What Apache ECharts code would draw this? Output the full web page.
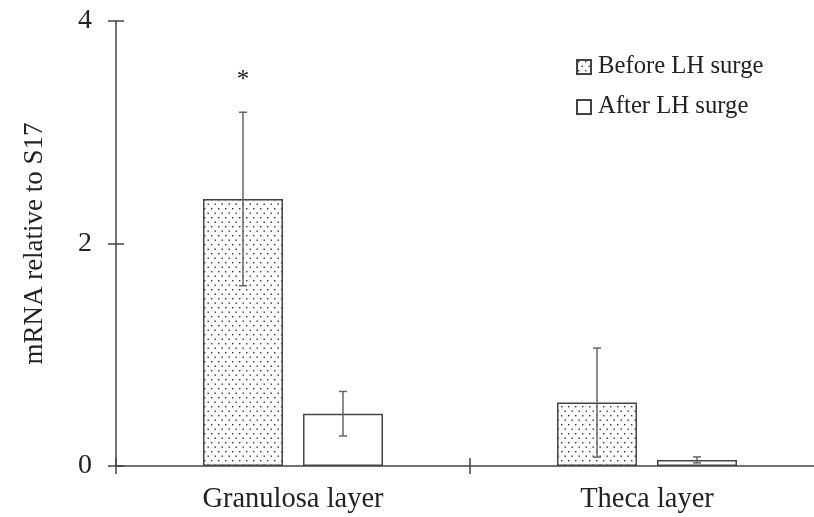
<!DOCTYPE html>
<html>
<head>
<meta charset="utf-8">
<script src="https://cdn.jsdelivr.net/npm/echarts@6/dist/echarts.min.js"></script>
<style>
html,body{margin:0;padding:0;background:#fff;}
#chart{width:814px;height:517px;}
</style>
</head>
<body>
<div id="chart"></div>
<script>
const categories = ['Granulosa layer', 'Theca layer'];
const seriesNames = ['Before LH surge', 'After LH surge'];
const beforeValues = [2.40, 0.57];
const beforeErrors = [0.78, 0.49];
const afterValues = [0.47, 0.055];
const afterErrors = [0.20, 0.027];
const sigMarks = ['*', ''];
const sigLevel = [3.47, null];
const yTicks = [0, 2, 4];

const FONT = '"Liberation Serif", "Times New Roman", serif';
const TEXT = '#222';
const LINE = '#444';

// dotted fill pattern
function makeDots() {
  const c = document.createElement('canvas');
  c.width = 7; c.height = 9;
  const g = c.getContext('2d');
  g.fillStyle = '#fff';
  g.fillRect(0, 0, 7, 9);
  g.fillStyle = '#333';
  g.fillRect(1, 1, 1.4, 1.4);
  g.fillRect(4.5, 5.5, 1.4, 1.4);
  return c;
}
const dotPattern = { image: makeDots(), repeat: 'repeat' };

const BAR_W = 80, BAR_GAP = 20;
const offsets = [-(BAR_W + BAR_GAP) / 2, (BAR_W + BAR_GAP) / 2];

function errData(vals, errs) {
  return vals.map((v, i) => [i, v, errs[i]]);
}

function errorSeries(name, vals, errs, k) {
  return {
    type: 'custom',
    name: name + ' err',
    data: errData(vals, errs),
    z: 5,
    silent: true,
    renderItem: function (params, api) {
      const i = api.value(0), v = api.value(1), e = api.value(2);
      const top = api.coord([i, v + e]);
      const bot = api.coord([i, v - e]);
      const x = top[0] + offsets[k];
      const cap = 4;
      const st = { stroke: '#666', lineWidth: 1.5 };
      return {
        type: 'group',
        children: [
          { type: 'line', shape: { x1: x, y1: top[1], x2: x, y2: bot[1] }, style: st },
          { type: 'line', shape: { x1: x - cap, y1: top[1], x2: x + cap, y2: top[1] }, style: st },
          { type: 'line', shape: { x1: x - cap, y1: bot[1], x2: x + cap, y2: bot[1] }, style: st }
        ]
      };
    }
  };
}

const chart = echarts.init(document.getElementById('chart'), null, { renderer: 'canvas' });
const option = {
  animation: false,
  backgroundColor: '#fff',
  grid: { left: 116, width: 708, top: 21, bottom: 51, containLabel: false, outerBoundsMode: 'none' },
  legend: {
    data: seriesNames,
    orient: 'vertical',
    left: 571,
    top: 49,
    itemWidth: 14,
    itemHeight: 14,
    itemGap: 14,
    icon: 'rect',
    textStyle: { fontFamily: FONT, fontSize: 24.7, color: TEXT, lineHeight: 26, padding: [0, 0, 0, 2] }
  },
  xAxis: [{
    type: 'category',
    data: categories,
    axisLine: { lineStyle: { color: LINE, width: 1.5 } },
    axisTick: { show: true, length: 8, lineStyle: { color: LINE, width: 1.5 } },
    axisLabel: { fontFamily: FONT, fontSize: 28.5, color: TEXT, margin: 19 }
  }, {
    type: 'category',
    data: categories,
    position: 'bottom',
    axisLine: { show: false },
    axisTick: { show: true, inside: true, length: 8, lineStyle: { color: LINE, width: 1.5 } },
    axisLabel: { show: false }
  }],
  yAxis: [{
    type: 'value',
    min: 0, max: 4, interval: 2,
    name: 'mRNA relative to S17',
    nameLocation: 'middle',
    nameRotate: 90,
    nameGap: 68,
    nameTextStyle: { fontFamily: FONT, fontSize: 27, color: TEXT },
    axisLine: { show: true, lineStyle: { color: LINE, width: 1.5 } },
    axisTick: { show: true, length: 8, lineStyle: { color: LINE, width: 1.5 } },
    splitLine: { show: false },
    axisLabel: {
      fontFamily: FONT, fontSize: 28, color: TEXT, margin: 24,
      formatter: v => (yTicks.indexOf(v) >= 0 ? String(v) : '')
    }
  }, {
    type: 'value',
    min: 0, max: 4, interval: 2,
    position: 'left',
    axisLine: { show: false },
    axisTick: { show: true, inside: true, length: 8, lineStyle: { color: LINE, width: 1.5 } },
    splitLine: { show: false },
    axisLabel: { show: false }
  }],
  series: [
    {
      type: 'bar',
      name: seriesNames[0],
      data: beforeValues,
      barWidth: BAR_W,
      barGap: (BAR_GAP / BAR_W * 100) + '%',
      itemStyle: { color: dotPattern, borderColor: LINE, borderWidth: 1.5 }
    },
    {
      type: 'bar',
      name: seriesNames[1],
      data: afterValues,
      barWidth: BAR_W,
      itemStyle: { color: '#fff', borderColor: LINE, borderWidth: 1.5 }
    },
    errorSeries(seriesNames[0], beforeValues, beforeErrors, 0),
    errorSeries(seriesNames[1], afterValues, afterErrors, 1),
    {
      type: 'custom',
      name: 'sig',
      data: sigLevel.map((v, i) => [i, v]),
      silent: true,
      renderItem: function (params, api) {
        const i = api.value(0), v = api.value(1);
        if (v == null || isNaN(v)) return null;
        const p = api.coord([i, v]);
        return {
          type: 'text',
          style: {
            x: p[0] + offsets[0], y: p[1],
            text: sigMarks[i],
            font: '25px ' + FONT,
            fill: TEXT,
            align: 'center',
            verticalAlign: 'middle'
          }
        };
      }
    }
  ]
};
chart.setOption(option);
</script>
</body>
</html>
